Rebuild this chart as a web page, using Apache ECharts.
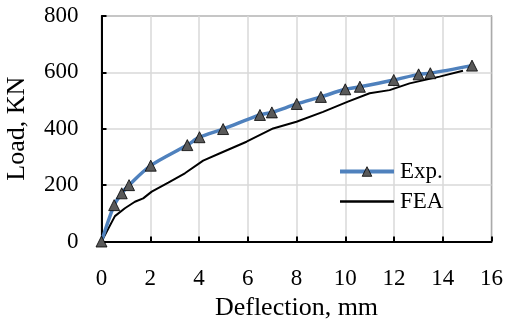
<!DOCTYPE html>
<html>
<head>
<meta charset="utf-8">
<script src="https://cdn.jsdelivr.net/npm/echarts@6/dist/echarts.min.js"></script>
<style>
html,body{margin:0;padding:0;background:#fff;}
#chart{width:505px;height:322px;}
</style>
</head>
<body>
<div id="chart"></div>
<script>
var expX = [0, 0.52, 0.83, 1.13, 2.02, 3.52, 4.02, 4.99, 6.5, 6.99, 8.01, 9.0, 10.0, 10.6, 11.99, 13.01, 13.49, 15.2];
var expY = [0, 129, 171, 200, 269, 342, 370, 399, 449, 458, 488, 513, 540, 549, 573, 593, 597, 624];
var feaX = [0, 0.55, 0.96, 1.37, 1.71, 2.06, 2.74, 3.42, 4.17, 4.86, 5.95, 7.04, 8.0, 9.09, 10.11, 11.0, 11.82, 12.64, 13.87, 14.83];
var feaY = [0, 90, 118, 141, 153, 177, 209, 242, 287, 313, 354, 401, 425, 460, 496, 526, 537, 561, 585, 606];
var xTicks = [0, 2, 4, 6, 8, 10, 12, 14, 16];
var yTicks = [0, 200, 400, 600, 800];

function pairs(xs, ys){ return xs.map(function(x,i){ return [x, ys[i]]; }); }

var font = 'Liberation Serif';
var chart = echarts.init(document.getElementById('chart'), null, {renderer:'canvas'});
chart.setOption({
  animation: false,
  backgroundColor: '#fff',
  grid: {left: 101.5, right: 13.5, top: 16, bottom: 80.5, show: true, borderColor: '#222', borderWidth: 1.2, containLabel: false, outerBoundsMode: 'none'},
  legend: {
    orient: 'vertical', left: 333, top: 155, itemWidth: 54, itemHeight: 12, itemGap: 7,
    textStyle: {fontFamily: font, fontSize: 23, color: '#000', padding: [0,0,0,1]},
    data: [
      {name: 'Exp.', lineStyle: {color: '#4F81BD', width: 4}, itemStyle: {color: '#595959', borderColor: '#000', borderWidth: 0.8}},
      {name: 'FEA', lineStyle: {color: '#000', width: 2.5}, itemStyle: {opacity: 0, color: 'rgba(0,0,0,0)', borderWidth: 0}}
    ]
  },
  xAxis: {
    type: 'value', min: xTicks[0], max: xTicks[xTicks.length-1], interval: 2,
    name: 'Deflection, mm', nameLocation: 'middle', nameGap: 50,
    nameTextStyle: {fontFamily: font, fontSize: 26, color: '#000'},
    axisLine: {show: true, onZero: false, lineStyle: {color: '#000', width: 2}},
    axisTick: {show: true, inside: true, length: 5, lineStyle: {color: '#000', width: 2}},
    axisLabel: {fontFamily: font, fontSize: 23, color: '#000', margin: 26},
    splitLine: {show: true, lineStyle: {color: '#D9D9D9', width: 1.5}}
  },
  yAxis: {
    type: 'value', min: yTicks[0], max: yTicks[yTicks.length-1], interval: 200,
    name: 'Load, KN', nameLocation: 'middle', nameGap: 71,
    nameTextStyle: {fontFamily: font, fontSize: 26, color: '#000'},
    axisLine: {show: true, onZero: false, lineStyle: {color: '#000', width: 2}},
    axisTick: {show: true, inside: true, length: 5, lineStyle: {color: '#000', width: 2}},
    axisLabel: {fontFamily: font, fontSize: 23, color: '#000', margin: 23},
    splitLine: {show: true, lineStyle: {color: '#D9D9D9', width: 1.5}}
  },
  series: [
    {
      name: 'FEA', type: 'line', data: pairs(feaX, feaY), showSymbol: false, symbol: 'none',
      lineStyle: {color: '#000', width: 2}, itemStyle: {color: '#000'}, z: 2
    },
    {
      name: 'Exp.', type: 'line', data: pairs(expX, expY), smooth: 0.3,
      symbol: 'triangle', symbolSize: 11,
      lineStyle: {color: '#4F81BD', width: 3.5},
      itemStyle: {color: '#595959', borderColor: '#000', borderWidth: 0.8},
      z: 3
    }
  ]
});
</script>
</body>
</html>
